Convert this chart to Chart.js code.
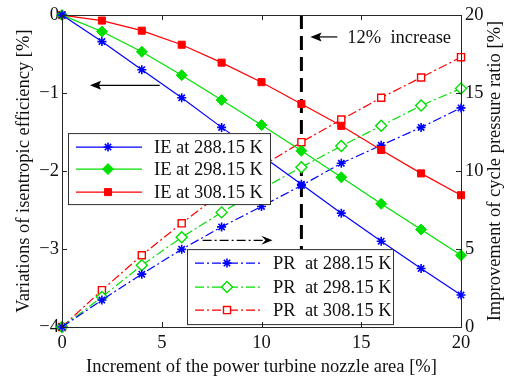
<!DOCTYPE html>
<html>
<head>
<meta charset="utf-8">
<script src="https://cdn.jsdelivr.net/npm/chart.js@4.4.0/dist/chart.umd.min.js"></script>
<style>
  html, body { margin: 0; padding: 0; background: #fff; }
</style>
</head>
<body>
<canvas id="myChart" width="508" height="380"></canvas>
<script>
// nozzle area increment [%]
const nozzleArea = [0, 2, 4, 6, 8, 10, 12, 14, 16, 18, 20];

// variations of isentropic efficiency [%] (left axis)
const ie288 = [0, -0.34, -0.70, -1.06, -1.44, -1.80, -2.17, -2.54, -2.90, -3.25, -3.59];
const ie298 = [0, -0.21, -0.47, -0.77, -1.09, -1.41, -1.74, -2.08, -2.42, -2.75, -3.08];
const ie308 = [0, -0.07, -0.20, -0.38, -0.61, -0.86, -1.14, -1.42, -1.73, -2.03, -2.31];

// improvement of cycle pressure ratio [%] (right axis)
const pr288 = [0, 1.73, 3.39, 4.98, 6.42, 7.73, 9.07, 10.5, 11.65, 12.8, 14.05];
const pr298 = [0, 1.92, 3.96, 5.75, 7.35, 8.85, 10.25, 11.6, 12.9, 14.2, 15.3];
const pr308 = [0, 2.36, 4.6, 6.65, 8.6, 10.3, 11.85, 13.3, 14.7, 16.0, 17.3];

const ieLabels = ['IE at 288.15 K', 'IE at 298.15 K', 'IE at 308.15 K'];
const prLabels = ['PR  at 288.15 K', 'PR  at 298.15 K', 'PR  at 308.15 K'];

const markerArea = 12;           // the "12% increase" line
const xTicks = [0, 5, 10, 15, 20];
const leftTicks = [0, -1, -2, -3, -4];
const rightTicks = [0, 5, 10, 15, 20];
const rightTitle = 'Improvement of cycle pressure ratio [%]';

const BLUE = '#0000ff', GREEN = '#00e000', RED = '#ff0000';
const DASHDOT = [9, 3, 2, 3];
const FONT = "'Liberation Serif', 'Times New Roman', serif";
const FSIZE = 18.5;

const pts = ys => nozzleArea.map((x, i) => ({ x: x, y: ys[i] }));

function ieSet(label, ys, color, style, r) {
  return {
    label: label, data: pts(ys), yAxisID: 'yL', clip: false,
    borderColor: color, backgroundColor: color, borderWidth: 1.2,
    pointStyle: style, pointRadius: r, pointBorderColor: color,
    pointBackgroundColor: color, pointBorderWidth: style === 'star' ? 1.6 : 1,
    fill: false, tension: 0
  };
}
function prSet(label, ys, color, style, r) {
  return {
    label: label, data: pts(ys), yAxisID: 'yR', clip: false,
    borderColor: color, backgroundColor: color, borderWidth: 1.2, borderDash: DASHDOT,
    pointStyle: style, pointRadius: r, pointBorderColor: color,
    pointBackgroundColor: style === 'star' ? color : '#fff', pointBorderWidth: style === 'star' ? 1.6 : 1.4,
    fill: false, tension: 0
  };
}

const datasets = [
  ieSet(ieLabels[0], ie288, BLUE, 'star', 4.5),
  ieSet(ieLabels[1], ie298, GREEN, 'rectRot', 5.5),
  ieSet(ieLabels[2], ie308, RED, 'rect', 5),
  prSet(prLabels[0], pr288, BLUE, 'star', 4.5),
  prSet(prLabels[1], pr298, GREEN, 'rectRot', 5.5),
  prSet(prLabels[2], pr308, RED, 'rect', 5)
];

function arrow(ctx, x1, y1, x2, y2, dash) {
  ctx.save();
  ctx.strokeStyle = '#000'; ctx.fillStyle = '#000'; ctx.lineWidth = 1.2;
  ctx.setLineDash(dash || []);
  const ang = Math.atan2(y2 - y1, x2 - x1);
  const hx = x2 - 8 * Math.cos(ang), hy = y2 - 8 * Math.sin(ang);
  ctx.beginPath(); ctx.moveTo(x1, y1); ctx.lineTo(hx, hy); ctx.stroke();
  ctx.setLineDash([]);
  ctx.beginPath();
  ctx.moveTo(x2, y2);
  ctx.lineTo(x2 - 12 * Math.cos(ang - 0.38), y2 - 12 * Math.sin(ang - 0.38));
  ctx.lineTo(hx + 1, hy);
  ctx.lineTo(x2 - 12 * Math.cos(ang + 0.38), y2 - 12 * Math.sin(ang + 0.38));
  ctx.closePath(); ctx.fill();
  ctx.restore();
}

function legendBox(chart, ctx, idx, bx, by, bw, bh, rows) {
  ctx.save();
  ctx.fillStyle = '#fff'; ctx.strokeStyle = '#303030'; ctx.lineWidth = 1;
  ctx.fillRect(bx, by, bw, bh);
  ctx.strokeRect(bx + 0.5, by + 0.5, bw, bh);
  idx.forEach((di, k) => {
    const ds = chart.data.datasets[di];
    const y = by + rows[k];
    ctx.strokeStyle = ds.borderColor; ctx.lineWidth = ds.borderWidth;
    ctx.setLineDash(ds.borderDash || []);
    ctx.beginPath(); ctx.moveTo(bx + 8, y); ctx.lineTo(bx + 74, y); ctx.stroke();
    ctx.setLineDash([]);
    ctx.fillStyle = ds.pointBackgroundColor; ctx.strokeStyle = ds.pointBorderColor;
    ctx.lineWidth = ds.pointBorderWidth;
    Chart.helpers.drawPoint(ctx, {
      pointStyle: ds.pointStyle, radius: ds.pointRadius, rotation: 0,
      borderWidth: ds.pointBorderWidth
    }, bx + 40, y);
    ctx.fillStyle = '#111'; ctx.font = FSIZE + 'px ' + FONT;
    ctx.textBaseline = 'middle'; ctx.textAlign = 'left';
    ctx.fillText(ds.label, bx + 86, y + 1);
  });
  ctx.restore();
}

const extras = {
  id: 'extras',
  beforeDatasetsDraw(chart) {
    const { ctx, chartArea: a, scales } = chart;
    const x = scales.x;
    // dashed line at 12 %
    const mx = x.getPixelForValue(markerArea);
    ctx.save();
    ctx.strokeStyle = '#000'; ctx.lineWidth = 3; ctx.setLineDash([14, 7]);
    ctx.beginPath(); ctx.moveTo(mx, a.top); ctx.lineTo(mx, a.bottom); ctx.stroke();
    ctx.restore();
  },
  afterDatasetsDraw(chart) {
    const { ctx, chartArea: a, scales } = chart;
    const x = scales.x, yL = scales.yL, yR = scales.yR;
    ctx.save();

    // annotation arrows and text
    arrow(ctx, x.getPixelForValue(13.8), yR.getPixelForValue(18.6), x.getPixelForValue(12.45), yR.getPixelForValue(18.6));
    ctx.fillStyle = '#111'; ctx.font = FSIZE + 'px ' + FONT; ctx.textBaseline = 'middle';
    ctx.fillText('12%  increase', x.getPixelForValue(14.3), yR.getPixelForValue(18.6) + 1);
    arrow(ctx, x.getPixelForValue(4.9), yL.getPixelForValue(-0.9), x.getPixelForValue(1.4), yL.getPixelForValue(-0.9));
    arrow(ctx, x.getPixelForValue(7.05), yR.getPixelForValue(5.56), x.getPixelForValue(10.55), yR.getPixelForValue(5.56), [9, 3, 2, 3]);

    // legends
    legendBox(chart, ctx, [0, 1, 2], a.left + 6, a.top + 118, 202, 71, [14, 36, 59]);
    legendBox(chart, ctx, [3, 4, 5], a.left + 125, a.top + 234, 206, 75, [14, 38, 61]);

    // frame and inward ticks
    ctx.strokeStyle = '#262626'; ctx.lineWidth = 1;
    ctx.strokeRect(Math.round(a.left) + 0.5, Math.round(a.top) + 0.5, Math.round(a.right - a.left), Math.round(a.bottom - a.top));
    ctx.beginPath();
    xTicks.forEach(v => {
      const px = Math.round(x.getPixelForValue(v)) + 0.5;
      ctx.moveTo(px, a.bottom); ctx.lineTo(px, a.bottom - 5);
      ctx.moveTo(px, a.top); ctx.lineTo(px, a.top + 5);
    });
    leftTicks.forEach(v => {
      const py = Math.round(yL.getPixelForValue(v)) + 0.5;
      ctx.moveTo(a.left, py); ctx.lineTo(a.left + 5, py);
    });
    rightTicks.forEach(v => {
      const py = Math.round(yR.getPixelForValue(v)) + 0.5;
      ctx.moveTo(a.right, py); ctx.lineTo(a.right - 5, py);
    });
    ctx.stroke();

    // right axis title, read bottom to top like the left one
    ctx.translate(yR.right - 13, (a.top + a.bottom) / 2);
    ctx.rotate(-Math.PI / 2);
    ctx.fillStyle = '#111'; ctx.font = FSIZE + 'px ' + FONT;
    ctx.textAlign = 'center'; ctx.textBaseline = 'middle';
    ctx.fillText(rightTitle, 0, 0);
    ctx.restore();
  }
};

Chart.defaults.font.family = FONT;
Chart.defaults.font.size = FSIZE;
Chart.defaults.color = '#111';

new Chart('myChart', {
  type: 'line',
  data: { datasets: datasets },
  plugins: [extras],
  options: {
    responsive: false,
    animation: false,
    layout: { padding: { top: 14, left: 0, right: 0, bottom: 0 } },
    plugins: { legend: { display: false }, tooltip: { enabled: false } },
    scales: {
      x: {
        type: 'linear', min: 0, max: 20,
        afterFit: s => { s.height = 53; },
        afterBuildTicks: s => { s.ticks = xTicks.map(v => ({ value: v })); },
        grid: { display: false, drawTicks: false },
        border: { display: false },
        ticks: { padding: 5, maxRotation: 0 },
        title: { display: true, text: 'Increment of the power turbine nozzle area [%]', padding: { top: 0, bottom: 2 } }
      },
      yL: {
        type: 'linear', position: 'left', min: -4, max: 0,
        afterFit: s => { s.width = 62; },
        afterBuildTicks: s => { s.ticks = leftTicks.map(v => ({ value: v })); },
        grid: { display: false, drawTicks: false },
        border: { display: false },
        ticks: { padding: 3, callback: v => (v < 0 ? '\u2212' + Math.abs(v) : String(v)) },
        title: { display: true, text: 'Variations of isentropic efficiency [%]', padding: { top: 13, bottom: 0 } }
      },
      yR: {
        type: 'linear', position: 'right', min: 0, max: 20,
        afterFit: s => { s.width = 47; },
        afterBuildTicks: s => { s.ticks = rightTicks.map(v => ({ value: v })); },
        grid: { display: false, drawTicks: false },
        border: { display: false },
        ticks: { padding: 4 },
        title: { display: false }
      }
    }
  }
});
</script>
</body>
</html>
